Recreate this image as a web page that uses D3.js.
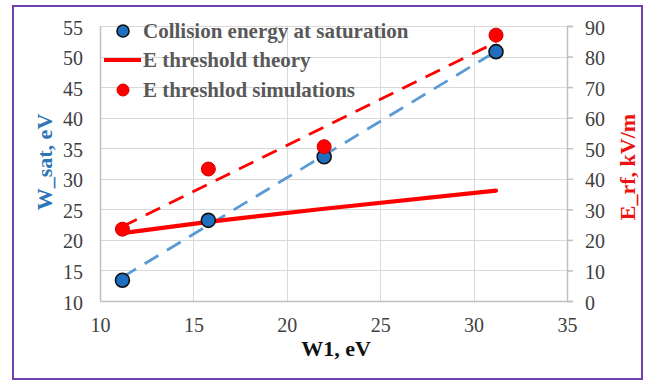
<!DOCTYPE html>
<html>
<head>
<meta charset="utf-8">
<script src="https://cdn.jsdelivr.net/npm/d3@7/dist/d3.min.js"></script>
<style>
  html, body { margin: 0; padding: 0; background: #fff; }
  svg { display: block; }
  text { font-family: "Liberation Serif", "Times New Roman", serif; }
</style>
</head>
<body>
<svg id="chart" width="647" height="381"></svg>
<script>
// Primary energy W1 (eV) at each simulated case
const w1 = [11.2, 15.8, 22.0, 31.2];
// Collision energy at saturation, W_sat (eV) – left axis
const wSat = [13.4, 23.2, 33.6, 50.8];
// Threshold RF field from theory, E_rf (kV/m) – right axis
const eTheory = [22.2, 25.9, 30.2, 36.1];
// Threshold RF field from simulations, E_rf (kV/m) – right axis
const eSim = [23.5, 43.2, 50.5, 87.0];

const xTicks = [10, 15, 20, 25, 30, 35];
const yLeftTicks = [10, 15, 20, 25, 30, 35, 40, 45, 50, 55];
const yRightTicks = [0, 10, 20, 30, 40, 50, 60, 70, 80, 90];

const legendLabels = [
  "Collision energy at saturation",
  "E threshold theory",
  "E threshlod simulations"
];

const svg = d3.select("#chart");
const plot = { left: 100, right: 567, top: 26, bottom: 301 };

const BLUE = "#1f6fc0", BLUE_LINE = "#5b9bd5", RED = "#ff0000";
const TICK_COLOR = "#404040", GRID = "#d9d9d9", AXIS = "#bfbfbf";
const TICK_SIZE = 20;

// Frame
svg.append("rect")
  .attr("x", 13).attr("y", 6).attr("width", 629).attr("height", 373)
  .attr("fill", "#fff").attr("stroke", "#6f42ad").attr("stroke-width", 2);

const x = d3.scaleLinear().domain([10, 35]).range([plot.left, plot.right]);
const yL = d3.scaleLinear().domain([10, 55]).range([plot.bottom, plot.top]);
const yR = d3.scaleLinear().domain([0, 90]).range([plot.bottom, plot.top]);

// Gridlines
const grid = svg.append("g");
grid.selectAll("line.h").data(yLeftTicks.slice(1)).join("line")
  .attr("x1", plot.left).attr("x2", plot.right)
  .attr("y1", d => Math.round(yL(d)) + 0.5).attr("y2", d => Math.round(yL(d)) + 0.5)
  .attr("stroke", GRID).attr("stroke-width", 1);
grid.selectAll("line.v").data(xTicks.slice(1, -1)).join("line")
  .attr("y1", plot.top).attr("y2", plot.bottom)
  .attr("x1", d => Math.round(x(d)) + 0.5).attr("x2", d => Math.round(x(d)) + 0.5)
  .attr("stroke", GRID).attr("stroke-width", 1);

// Bottom axis
const xAxis = svg.append("g")
  .attr("transform", `translate(0,${plot.bottom})`)
  .call(d3.axisBottom(x).tickValues(xTicks).tickSize(0).tickPadding(17).tickFormat(d3.format("d")));
xAxis.select(".domain").attr("stroke", AXIS).attr("stroke-width", 1.5);
xAxis.selectAll("text").attr("font-size", TICK_SIZE).attr("fill", TICK_COLOR);

// Left axis
const yLAxis = svg.append("g")
  .attr("transform", `translate(${plot.left},0)`)
  .call(d3.axisLeft(yL).tickValues(yLeftTicks).tickSize(0).tickPadding(17).tickFormat(d3.format("d")));
yLAxis.select(".domain").attr("stroke", AXIS).attr("stroke-width", 1.5);
yLAxis.selectAll("text").attr("font-size", TICK_SIZE).attr("fill", TICK_COLOR).attr("dy", "0.4em");

// Right axis
const yRAxis = svg.append("g")
  .attr("transform", `translate(${plot.right},0)`)
  .call(d3.axisRight(yR).tickValues(yRightTicks).tickSize(6).tickPadding(12).tickFormat(d3.format("d")));
yRAxis.select(".domain").attr("stroke", AXIS).attr("stroke-width", 1.5);
yRAxis.selectAll("line").attr("stroke", AXIS).attr("stroke-width", 1.5);
yRAxis.selectAll("text").attr("font-size", TICK_SIZE).attr("fill", TICK_COLOR).attr("dy", "0.4em");

// Linear least-squares fit through a set of points
function linearFit(xs, ys) {
  const mx = d3.mean(xs), my = d3.mean(ys);
  let sxy = 0, sxx = 0;
  for (let i = 0; i < xs.length; i++) {
    sxy += (xs[i] - mx) * (ys[i] - my);
    sxx += (xs[i] - mx) * (xs[i] - mx);
  }
  const slope = sxy / sxx;
  const icpt = my - slope * mx;
  return v => icpt + slope * v;
}

const xExtent = d3.extent(w1);

// Trend lines (dashed)
const fitBlue = linearFit(w1, wSat);
const fitRed = linearFit(w1, eSim);
const trendLine = (fit, ys) => d3.line().x(d => x(d)).y(d => ys(fit(d)));

svg.append("path")
  .attr("d", trendLine(fitBlue, yL)(xExtent))
  .attr("fill", "none").attr("stroke", BLUE_LINE).attr("stroke-width", 2.8)
  .attr("stroke-dasharray", "16,10");
svg.append("path")
  .attr("d", trendLine(fitRed, yR)(xExtent))
  .attr("fill", "none").attr("stroke", RED).attr("stroke-width", 2.8)
  .attr("stroke-dasharray", "16,10");

// Theory curve (solid)
svg.append("path")
  .datum(w1.map((v, i) => [v, eTheory[i]]))
  .attr("d", d3.line().x(d => x(d[0])).y(d => yR(d[1])))
  .attr("fill", "none").attr("stroke", RED).attr("stroke-width", 4.2)
  .attr("stroke-linecap", "round").attr("stroke-linejoin", "round");

// Saturation energy markers
svg.append("g").selectAll("circle").data(w1.map((v, i) => [v, wSat[i]])).join("circle")
  .attr("cx", d => x(d[0])).attr("cy", d => yL(d[1])).attr("r", 7)
  .attr("fill", BLUE).attr("stroke", "#111").attr("stroke-width", 1.6);

// Simulation threshold markers
svg.append("g").selectAll("circle").data(w1.map((v, i) => [v, eSim[i]])).join("circle")
  .attr("cx", d => x(d[0])).attr("cy", d => yR(d[1])).attr("r", 7)
  .attr("fill", RED).attr("stroke", "#d00000").attr("stroke-width", 1);

// Legend
const legend = svg.append("g");
const legY = [31, 60, 90];
legend.append("circle").attr("cx", 123).attr("cy", legY[0]).attr("r", 6)
  .attr("fill", BLUE).attr("stroke", "#111").attr("stroke-width", 1.6);
legend.append("line").attr("x1", 104).attr("x2", 141).attr("y1", legY[1]).attr("y2", legY[1])
  .attr("stroke", RED).attr("stroke-width", 4.2);
legend.append("circle").attr("cx", 123).attr("cy", legY[2]).attr("r", 6)
  .attr("fill", RED).attr("stroke", "#d00000").attr("stroke-width", 1);
legend.selectAll("text").data(legendLabels).join("text")
  .attr("x", 143).attr("y", (d, i) => legY[i]).attr("dy", "0.33em")
  .attr("font-size", 21).attr("font-weight", "bold").attr("fill", "#595959")
  .text(d => d);

// Axis titles
svg.append("text")
  .attr("x", 336).attr("y", 356).attr("text-anchor", "middle")
  .attr("font-size", 22).attr("font-weight", "bold").attr("fill", "#111")
  .text("W1, eV");
svg.append("text")
  .attr("transform", "translate(52,162) rotate(-90)").attr("text-anchor", "middle")
  .attr("font-size", 22).attr("font-weight", "bold").attr("fill", "#2e75b6")
  .text("W_sat, eV");
svg.append("text")
  .attr("transform", "translate(635,167) rotate(-90)").attr("text-anchor", "middle")
  .attr("font-size", 22).attr("font-weight", "bold").attr("fill", "#ee1111")
  .text("E_rf, kV/m");
</script>
</body>
</html>
